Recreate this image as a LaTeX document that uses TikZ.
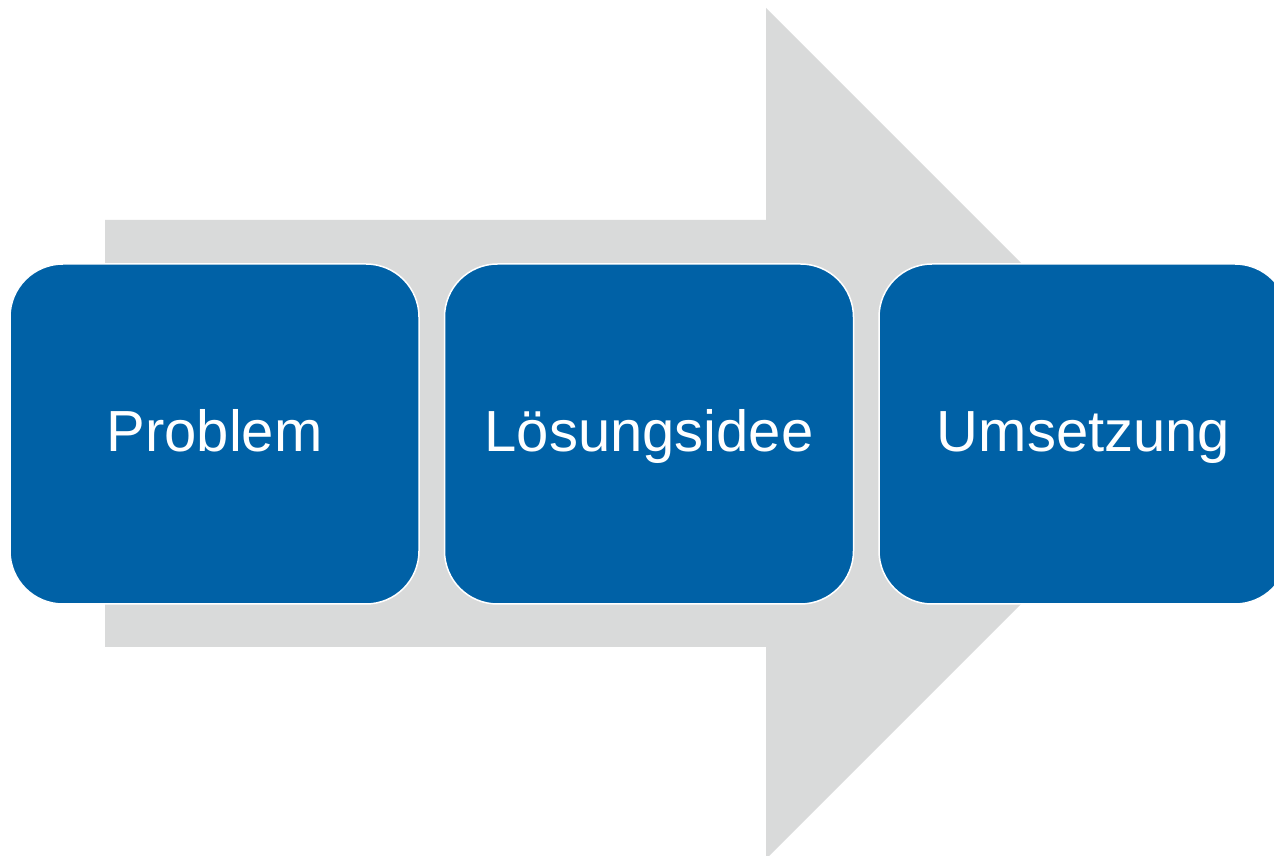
\documentclass[tikz,border=0pt]{standalone}
\usepackage{fontspec}
\setmainfont{Liberation Sans}
\usepackage{tikz}
\usetikzlibrary{positioning}
\definecolor{stepblue}{RGB}{0,97,166}
\definecolor{flowgray}{RGB}{217,218,218}
\tikzset{phase/.style={draw=white,line width=1.5pt,fill=stepblue,rectangle,rounded corners=53pt,
  minimum width=409pt,minimum height=340pt,text=white,text height=44pt,text depth=8pt,
  font=\fontsize{58}{70}\selectfont}}
\begin{document}
\begin{tikzpicture}[x=1pt,y=1pt]
\useasboundingbox (0,0) rectangle (1274,856);
\fill[flowgray] (105,636) -- (766,636) -- (766,848) -- (1191.5,422.5) -- (766,-3) -- (766,209) -- (105,209) -- cycle;
\node[phase] (problem) at (214.5,422) {Problem};
\node[phase,right=24pt of problem] (idee) {Lösungsidee};
\node[phase,right=24pt of idee] (umsetzung) {Umsetzung};
\end{tikzpicture}
\end{document}
